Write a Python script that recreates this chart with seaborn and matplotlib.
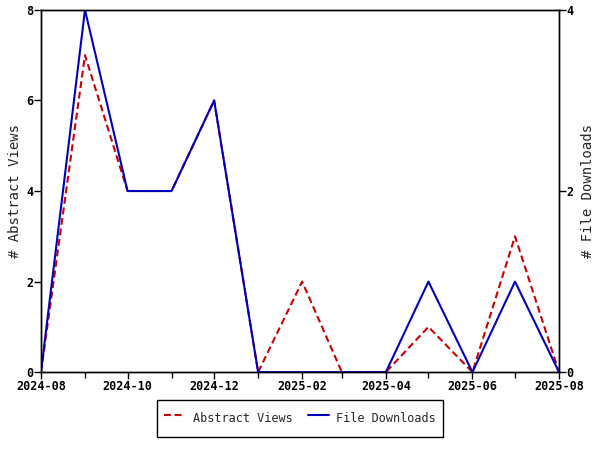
import matplotlib
matplotlib.use('Agg')
import matplotlib.pyplot as plt
import matplotlib.dates as mdates
import pandas as pd
import seaborn as sns

sns.set_style('ticks')
plt.rcParams['font.family'] = ['DejaVu Sans Mono']
plt.rcParams['font.weight'] = 'bold'
plt.rcParams['font.size'] = 8.5

months = ['2024-08', '2024-09', '2024-10', '2024-11', '2024-12', '2025-01', '2025-02',
          '2025-03', '2025-04', '2025-05', '2025-06', '2025-07', '2025-08']
abstract_views = [0, 7, 4, 4, 6, 0, 2, 0, 0, 1, 0, 3, 0]
file_downloads = [0, 4, 2, 2, 3, 0, 0, 0, 0, 1, 0, 1, 0]

df = pd.DataFrame({'month': pd.to_datetime(months),
                   'views': abstract_views,
                   'downloads': file_downloads})

fig, ax = plt.subplots(figsize=(6, 4.5), dpi=100)
fig.subplots_adjust(left=0.0683, right=0.9317, top=0.978, bottom=0.173)
ax2 = ax.twinx()

sns.lineplot(data=df, x='month', y='views', ax=ax, color='#cc0000', lw=1.5,
             linestyle=(0, (3.3, 1.8)), label='Abstract Views', legend=False)
sns.lineplot(data=df, x='month', y='downloads', ax=ax2, color='#0000bb', lw=1.5,
             label='File Downloads', legend=False)

ax.set_xlim(df['month'].iloc[0], df['month'].iloc[-1])
ax.set_ylim(0, 8)
ax2.set_ylim(0, 4)
ax.set_yticks([0, 2, 4, 6, 8])
ax2.set_yticks([0, 2, 4])
ax.xaxis.set_major_locator(mdates.MonthLocator(bymonth=[2, 4, 6, 8, 10, 12]))
ax.xaxis.set_minor_locator(mdates.MonthLocator(bymonth=[1, 3, 5, 7, 9, 11]))
ax.xaxis.set_major_formatter(mdates.DateFormatter('%Y-%m'))

ax.set_xlabel('')
ax.set_ylabel('# Abstract Views', fontsize=10, fontweight='normal', labelpad=3)
ax2.set_ylabel('# File Downloads', fontsize=10, fontweight='normal', rotation=90, labelpad=5)

for a in (ax, ax2):
    for s in a.spines.values():
        s.set_linewidth(1)
        s.set_color('black')
    a.tick_params(which='both', direction='out', length=5, width=1, colors='black', pad=0.5)
    a.tick_params(which='minor', length=4)
    a.grid(False)

h1, l1 = ax.get_legend_handles_labels()
h2, l2 = ax2.get_legend_handles_labels()
fig.legend(h1 + h2, l1 + l2, loc='lower center', bbox_to_anchor=(0.5, 0.029), ncol=2,
           frameon=True, fancybox=False, edgecolor='black', framealpha=1, borderaxespad=0,
           borderpad=0.6, handleheight=2.6, columnspacing=1.3, handlelength=1.8,
           handletextpad=0.6, prop={'weight': 'normal', 'size': 8.5})

fig.savefig('out.png', dpi=100)
